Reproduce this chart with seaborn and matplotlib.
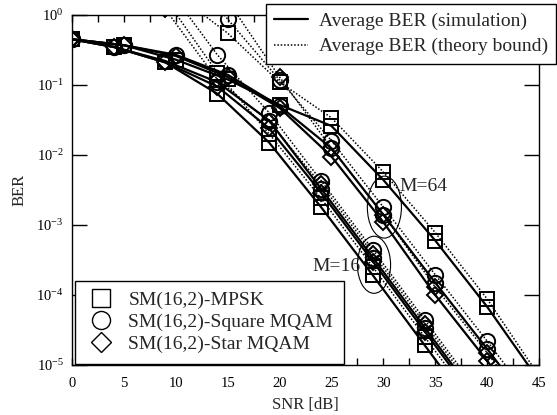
import numpy as np
import pandas as pd
import seaborn as sns
import matplotlib.pyplot as plt
from matplotlib.lines import Line2D
from matplotlib.patches import Ellipse
from matplotlib.ticker import MultipleLocator, LogLocator, NullLocator

# SNR grid (dB) - the M=16 runs are one dB left of the M=64 runs
snr_16 = [0, 4, 9, 14, 19, 24, 29, 34, 39, 44]
snr_64 = [0, 5, 10, 15, 20, 25, 30, 35, 40, 45]

# simulated average BER
sim_psk_16 = [0.45, 0.35, 0.21, 0.075, 0.015, 1.8e-3, 1.9e-4, 1.9e-5, 1.9e-6, 1.9e-7]
sim_sq_16 = [0.45, 0.35, 0.22, 0.11, 0.031, 3.3e-3, 3.4e-4, 3.4e-5, 3.4e-6, 3.4e-7]
sim_star_16 = [0.45, 0.35, 0.21, 0.095, 0.024, 2.9e-3, 3.0e-4, 3.0e-5, 3.0e-6, 3.0e-7]
sim_psk_64 = [0.45, 0.37, 0.23, 0.12, 0.052, 0.026, 4.4e-3, 6.0e-4, 6.8e-5, 6.0e-6]
sim_sq_64 = [0.45, 0.37, 0.27, 0.14, 0.050, 0.0125, 1.4e-3, 1.5e-4, 1.7e-5, 1.8e-6]
sim_star_64 = [0.45, 0.37, 0.26, 0.13, 0.047, 0.0095, 1.1e-3, 1.0e-4, 1.15e-5, 1.2e-6]

# theory bound
th_snr_16 = [9, 14, 19, 24, 29, 34, 39, 44]
th_psk_16 = [1.7, 0.15, 0.02, 2.4e-3, 2.5e-4, 2.5e-5, 2.5e-6, 2.5e-7]
th_sq_16 = [2.7, 0.27, 0.04, 4.3e-3, 4.4e-4, 4.4e-5, 4.4e-6, 4.4e-7]
th_star_16 = [1.2, 0.12, 0.03, 3.8e-3, 3.9e-4, 3.9e-5, 3.9e-6, 3.9e-7]
th_snr_64 = [10, 15, 20, 25, 30, 35, 40, 45]
th_psk_64 = [2.0, 0.55, 0.11, 0.034, 5.7e-3, 7.8e-4, 8.8e-5, 7.0e-6]
th_sq_64 = [8.0, 0.87, 0.118, 0.016, 1.8e-3, 1.95e-4, 2.2e-5, 2.3e-6]
th_star_64 = [16.0, 1.6, 0.13, 0.0125, 1.4e-3, 1.3e-4, 1.5e-5, 1.5e-6]

schemes = ['SM(16,2)-MPSK', 'SM(16,2)-Square MQAM', 'SM(16,2)-Star MQAM']
markers = {'SM(16,2)-MPSK': 's', 'SM(16,2)-Square MQAM': 'o', 'SM(16,2)-Star MQAM': 'D'}
msizes = {'s': 10.5, 'o': 11, 'D': 8}

rows = []
def add(snr, ber, scheme, m, kind):
    for s, b in zip(snr, ber):
        rows.append({'snr': s, 'ber': b, 'scheme': scheme, 'M': m, 'kind': kind})

add(snr_16, sim_psk_16, schemes[0], 16, 'sim')
add(snr_16, sim_sq_16, schemes[1], 16, 'sim')
add(snr_16, sim_star_16, schemes[2], 16, 'sim')
add(snr_64, sim_psk_64, schemes[0], 64, 'sim')
add(snr_64, sim_sq_64, schemes[1], 64, 'sim')
add(snr_64, sim_star_64, schemes[2], 64, 'sim')
add(th_snr_16, th_psk_16, schemes[0], 16, 'theory')
add(th_snr_16, th_sq_16, schemes[1], 16, 'theory')
add(th_snr_16, th_star_16, schemes[2], 16, 'theory')
add(th_snr_64, th_psk_64, schemes[0], 64, 'theory')
add(th_snr_64, th_sq_64, schemes[1], 64, 'theory')
add(th_snr_64, th_star_64, schemes[2], 64, 'theory')
df = pd.DataFrame(rows)

sns.set_style('ticks')
plt.rcParams['font.family'] = ['Liberation Serif', 'DejaVu Serif']
plt.rcParams['mathtext.fontset'] = 'stix'

fig = plt.figure(figsize=(5.57, 4.15), dpi=100)
ax = fig.add_axes([0.1293, 0.1205, 0.8384, 0.8434])
ax.set_yscale('log')

dotted = (0, (1, 1.2))
for (kind, scheme, m), g in df.groupby(['kind', 'scheme', 'M']):
    mk = markers[scheme]
    sns.lineplot(data=g, x='snr', y='ber', ax=ax, color='black',
                 estimator=None, sort=True,
                 linestyle='-' if kind == 'sim' else dotted,
                 linewidth=1.6 if kind == 'sim' else 1.1,
                 marker=mk, markersize=msizes[mk], markerfacecolor='none',
                 markeredgecolor='black', markeredgewidth=1.4, clip_on=True)

ax.set_xlim(0, 45)
ax.set_ylim(1e-5, 1)
ax.xaxis.set_major_locator(MultipleLocator(5))
ax.xaxis.set_minor_locator(MultipleLocator(2.5))
ax.yaxis.set_major_locator(LogLocator(base=10, numticks=10))
ax.yaxis.set_minor_locator(NullLocator())
ax.tick_params(axis='both', which='both', direction='in', top=True, right=True,
               width=1.0, colors='black', labelsize=10.5, pad=6)
ax.tick_params(axis='x', which='both', length=5, pad=9)
ax.tick_params(axis='y', which='major', length=11)
for sp in ax.spines.values():
    sp.set_linewidth(1.0)
    sp.set_color('black')
ax.set_xlabel('SNR [dB]', fontsize=12, labelpad=5)
ax.set_ylabel('BER', fontsize=12, labelpad=6)

# circled groups
to_axes = ax.transScale + ax.transLimits
for snr, ber, w, h, txt, tdx, tdy in [(30.1, 1.8e-3, 0.073, 0.177, 'M=64', 0.032, 0.06),
                                      (29.1, 2.7e-4, 0.071, 0.163, 'M=16', -0.133, -0.005)]:
    cx, cy = to_axes.transform((snr, ber))
    ax.add_patch(Ellipse((cx, cy), w, h, transform=ax.transAxes, fill=False,
                         edgecolor='black', linewidth=0.8))
    ax.text(cx + tdx, cy + tdy, txt, transform=ax.transAxes, fontsize=14,
            va='center', ha='left')

h_lines = [Line2D([], [], color='black', lw=1.6),
           Line2D([], [], color='black', lw=1.1, linestyle=dotted)]
leg1 = fig.legend(h_lines, ['Average BER (simulation)', 'Average BER (theory bound)'],
                  loc='upper right', bbox_to_anchor=(0.998, 0.990), fontsize=14,
                  frameon=True, fancybox=False, edgecolor='black', framealpha=1,
                  handlelength=1.75, handletextpad=0.55, borderpad=0.42, labelspacing=0.4,
                  borderaxespad=0)
leg1.get_frame().set_linewidth(1.0)

h_mk = [Line2D([], [], color='black', linestyle='none', marker=markers[s],
               markersize=msizes[markers[s]] + 2, markerfacecolor='none', markeredgewidth=1.0)
        for s in schemes]
leg2 = ax.legend(h_mk, schemes, loc='lower left', bbox_to_anchor=(0.006, 0.004),
                 fontsize=14, frameon=True, fancybox=False, edgecolor='black',
                 framealpha=1, handlelength=1.6, handletextpad=0.6, borderpad=0.55,
                 labelspacing=0.22, borderaxespad=0)
leg2.get_frame().set_linewidth(1.0)

fig.savefig('out.png', dpi=100)
